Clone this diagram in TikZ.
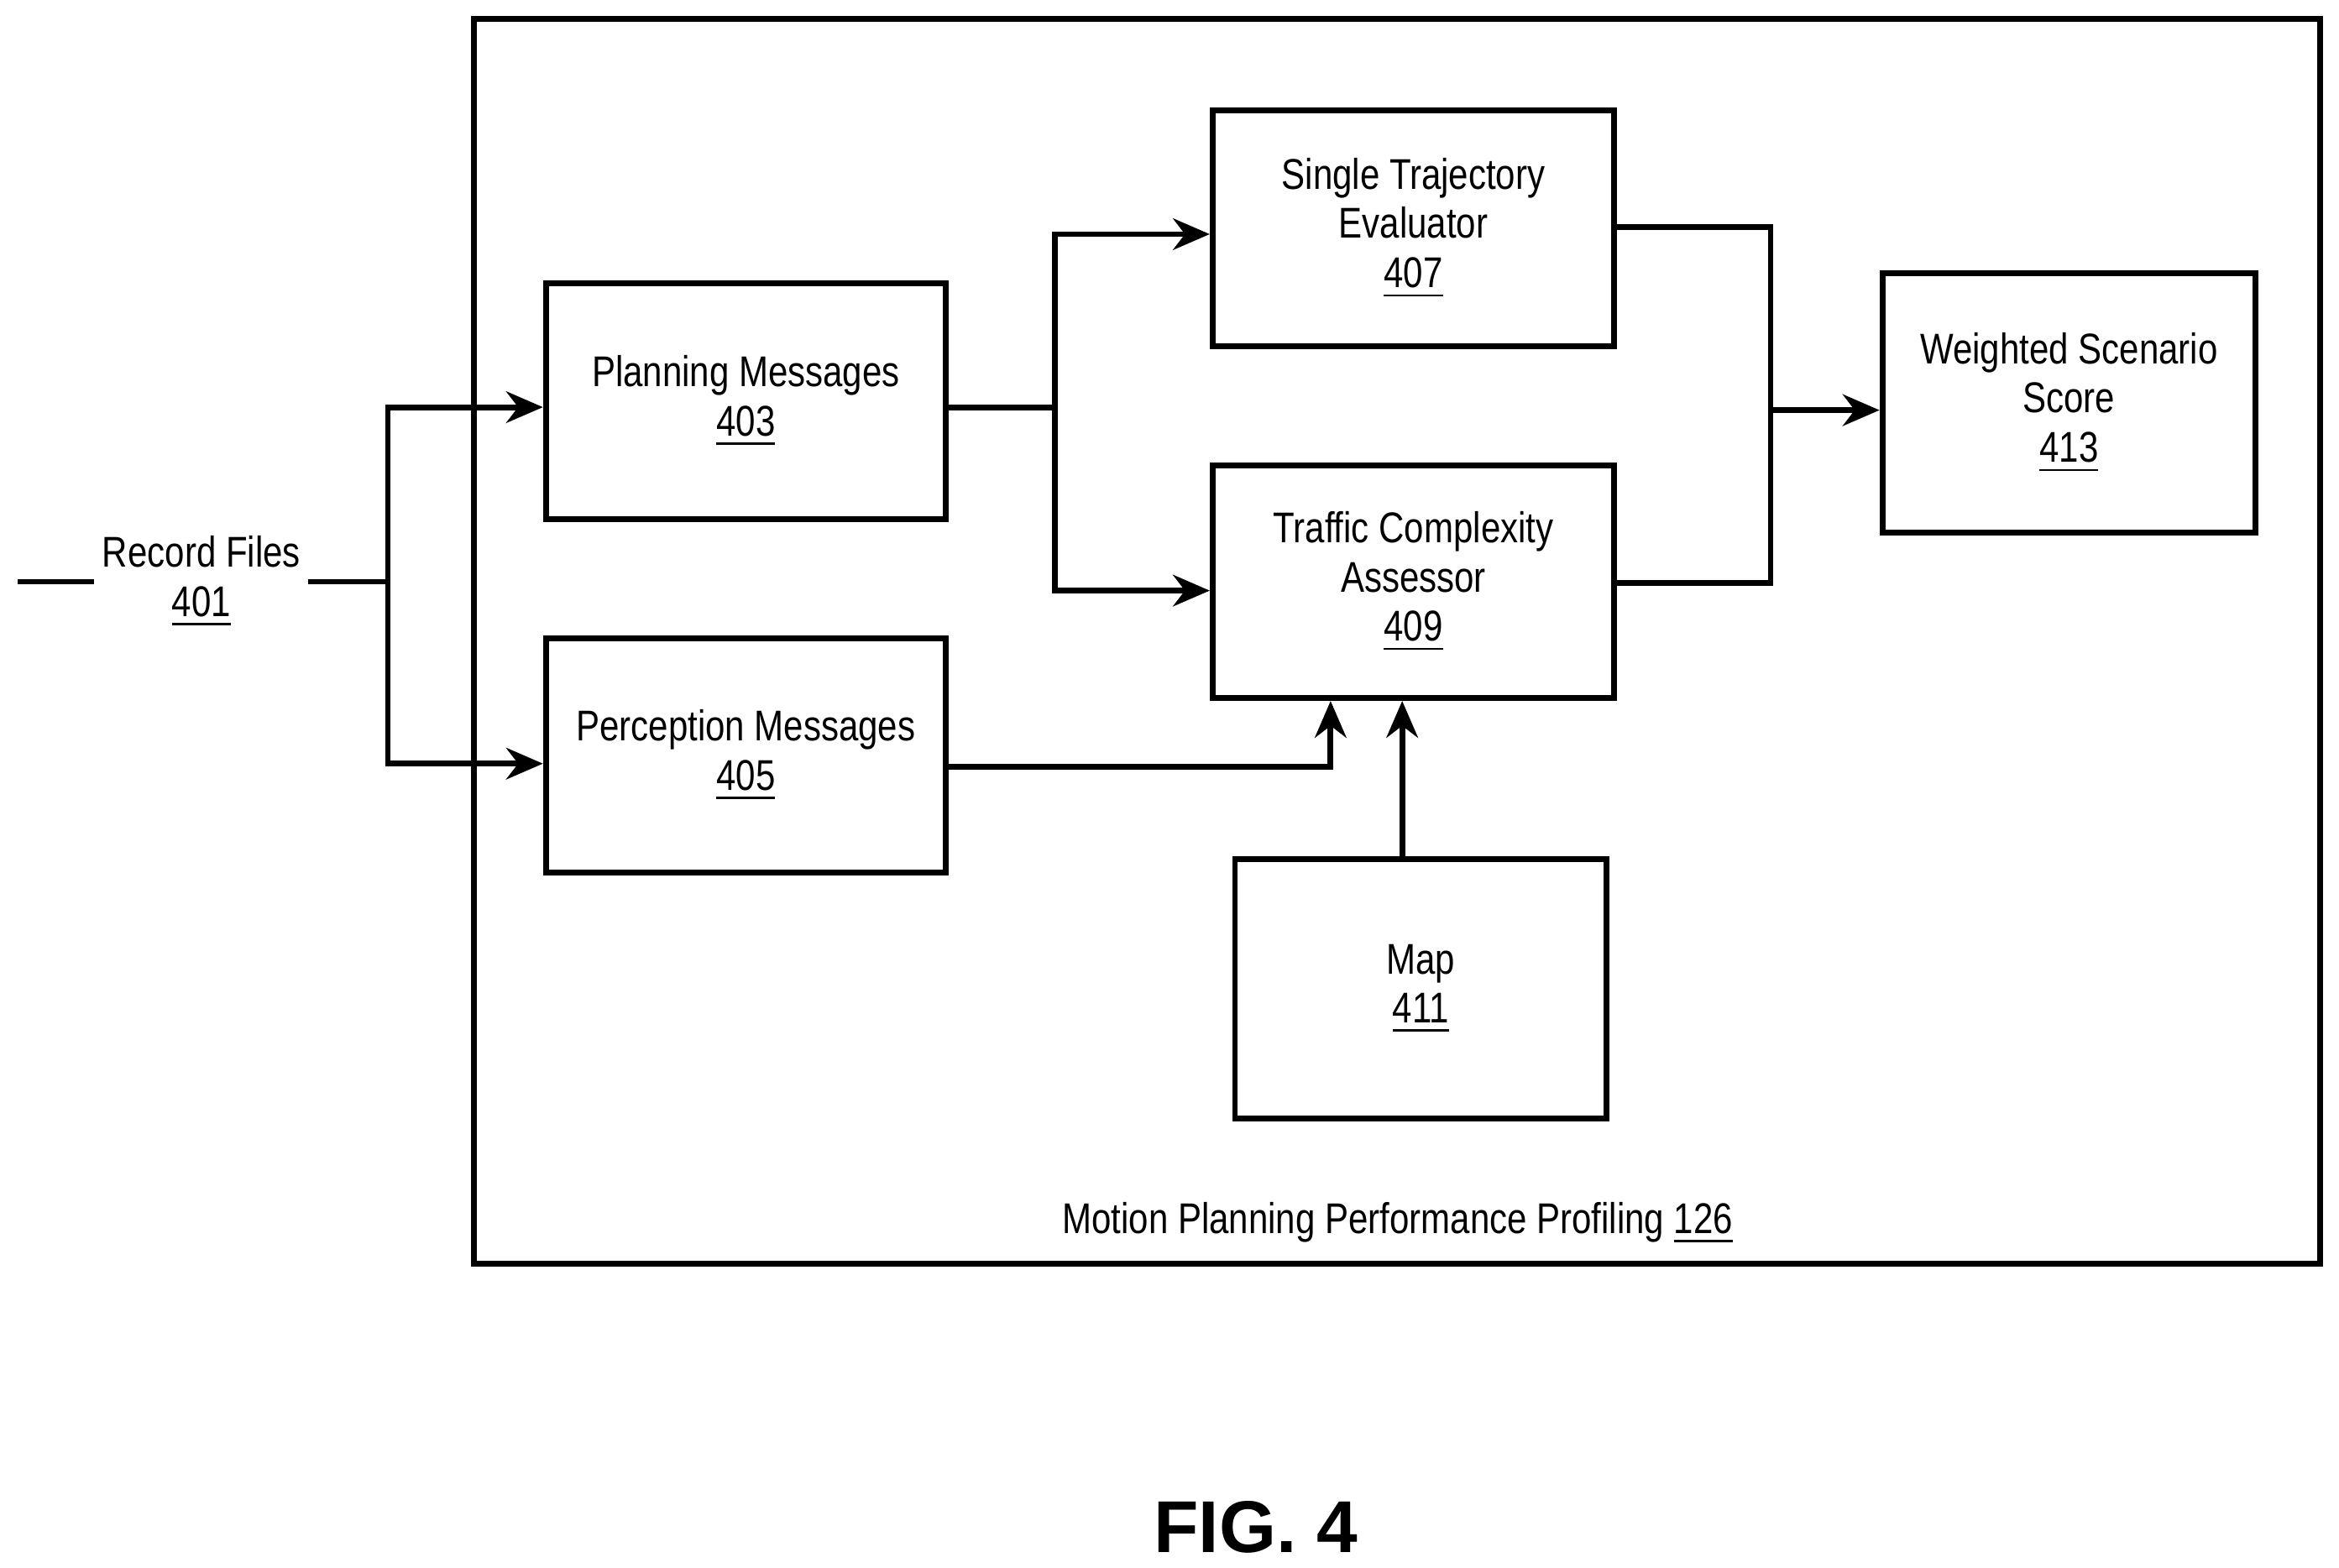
\documentclass[tikz,border=0pt]{standalone}
\usepackage{fontspec}
\setmainfont{Liberation Sans}[FakeStretch=0.82]
\newfontfamily\figfont{Liberation Sans}
\usetikzlibrary{arrows.meta}
\usetikzlibrary{positioning}

\begin{document}
\begin{tikzpicture}[x=0.01cm,y=-0.01cm,line width=1.1pt,>={Stealth[length=7pt,width=6pt]}]
          \tikzstyle{block} = [draw=black, line width=1.1pt, align=center, inner sep=1pt, font=\fontsize{8.2}{9.4}\selectfont]
          \tikzstyle{legend} = [align=center, inner sep=1pt, font=\fontsize{8.2}{9.4}\selectfont]

          \useasboundingbox (0,0) rectangle (1568,1051);

          % Frame
          \node[draw=black, line width=1.1pt, minimum width=12.37cm, minimum height=8.34cm, inner sep=0pt] (frame) at (936.5,430) {};
          \node[legend] (profiling) at (937,820) {Motion Planning Performance Profiling \underline{126}};

          % Blocks
          \node[block, minimum width=2.68cm, minimum height=1.58cm] (planning) at (500,269) {Planning Messages\\\underline{403}};
          \node[block, minimum width=2.68cm, minimum height=1.57cm] (perception) at (500,506.5) {Perception Messages\\\underline{405}};
          \node[block, minimum width=2.69cm, minimum height=1.58cm] (single) at (947.5,153) {Single Trajectory\\Evaluator\\\underline{407}};
          \node[block, minimum width=2.69cm, minimum height=1.56cm] (traffic) at (947.5,390) {Traffic Complexity\\Assessor\\\underline{409}};
          \node[block, minimum width=2.49cm, minimum height=1.74cm] (map) at (952.5,663) {Map\\\underline{411}};
          \node[block, minimum width=2.50cm, minimum height=1.74cm] (score) at (1387,270) {Weighted Scenario\\Score\\\underline{413}};

          % Input
          \node[legend] (record) at (135,390) {Record Files\\\underline{401}};
          \coordinate (start) at (12,390);
          \coordinate (split) at (260,390);

          % Edges
          \draw (start) -- (record.west |- start);
          \draw (record.east |- split) -- (split);
          \draw[->] (split) |- (planning.west |- 0,273);
          \draw[->] (split) |- (perception.west |- 0,512);
          \draw (planning.east |- 0,273) -- (707,273) coordinate (fork);
          \draw[->] (fork) |- (single.west |- 0,157);
          \draw[->] (fork) |- (traffic.west |- 0,396);
          \draw[->] (perception.east |- 0,514) -| (traffic.south -| 892,0);
          \draw[->] (map.north -| 940,0) -- (traffic.south -| 940,0);
          \draw (single.east |- 0,152) -| (1187,275) coordinate (join);
          \draw (traffic.east |- 0,391) -| (join);
          \draw[->] (join) -- (score.west |- join);

          \node[font=\figfont\bfseries\fontsize{14}{16}\selectfont] (fig) at (842,1024) {FIG. 4};

        \end{tikzpicture}
\end{document}
